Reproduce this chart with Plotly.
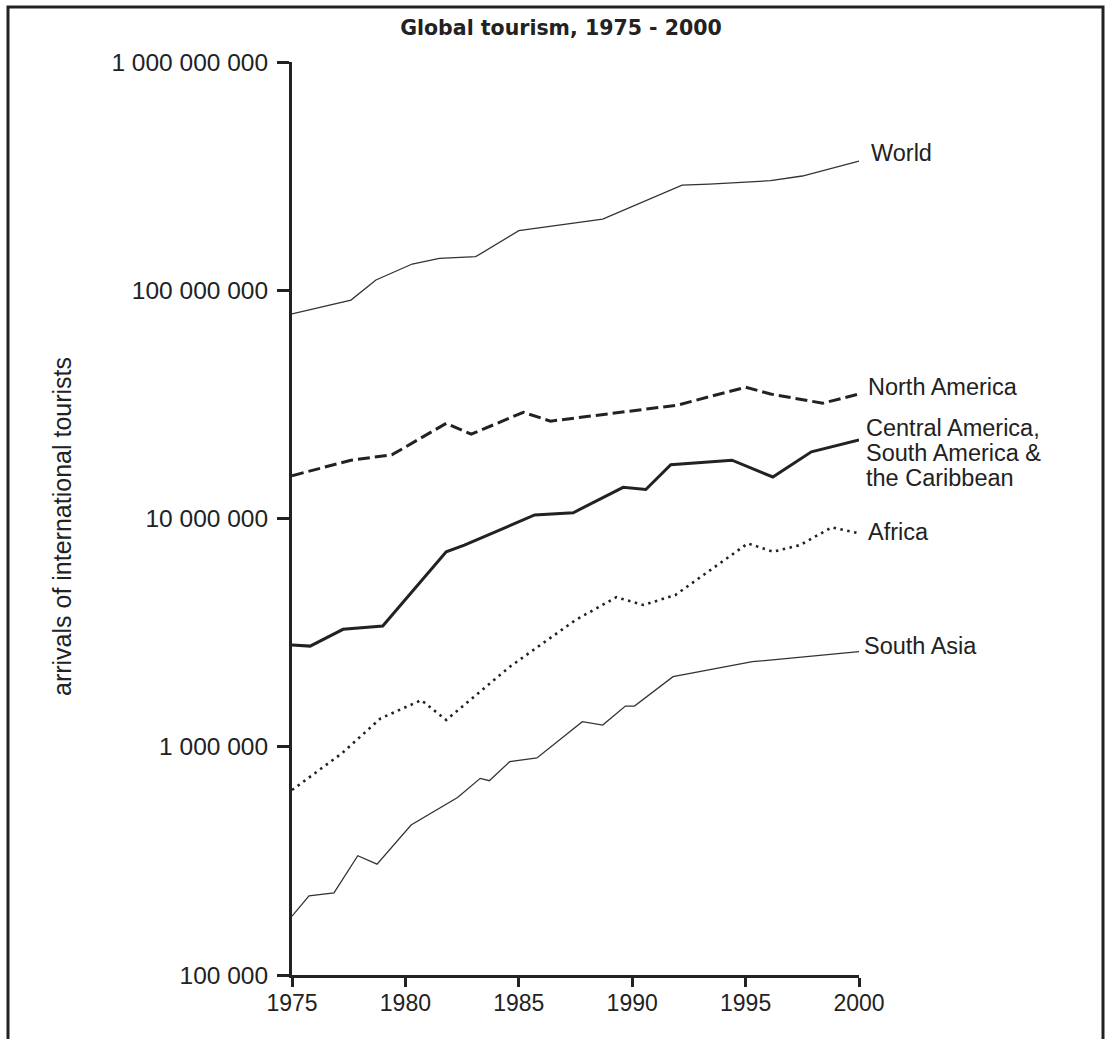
import plotly.graph_objects as go

# ---------------- data (values in millions of arrivals) ----------------
world_years = [1975, 1977.6, 1978.7, 1980.3, 1981.5, 1983.1, 1985.0, 1988.7, 1992.2, 1993.4, 1996.1, 1997.5, 2000]
world_vals = [78.7, 90.6, 110.9, 130.3, 138.0, 140.3, 182.4, 205.0, 289.0, 292.0, 302.0, 316.6, 368.0]

na_years = [1975, 1977.6, 1979.4, 1981.8, 1982.9, 1985.2, 1986.4, 1992.0, 1995.0, 1996.1, 1998.4, 2000]
na_vals = [15.4, 18.0, 19.0, 26.1, 23.4, 29.2, 26.7, 31.4, 37.6, 35.1, 32.0, 35.1]

ca_years = [1975, 1975.8, 1977.25, 1979.0, 1981.8, 1982.6, 1985.7, 1987.4, 1989.6, 1990.6, 1991.7, 1994.4, 1996.2, 1997.9, 2000]
ca_vals = [2.79, 2.76, 3.27, 3.38, 7.15, 7.65, 10.36, 10.6, 13.7, 13.4, 17.2, 18.0, 15.2, 19.6, 22.1]

africa_years = [1975, 1977.2, 1978.9, 1980.7, 1981.8, 1984.6, 1987.5, 1989.3, 1990.5, 1991.9, 1995.1, 1996.2, 1997.4, 1998.8, 2000]
africa_vals = [0.646, 0.936, 1.33, 1.60, 1.31, 2.24, 3.59, 4.52, 4.18, 4.62, 7.78, 7.15, 7.65, 9.15, 8.61]

sasia_years = [1975, 1975.75, 1976.85, 1977.9, 1978.75, 1980.25, 1982.3, 1983.3, 1983.7, 1984.6, 1985.8, 1987.8, 1988.7, 1989.7, 1990.1, 1991.8, 1995.3, 2000]
sasia_vals = [0.181, 0.222, 0.229, 0.333, 0.306, 0.454, 0.599, 0.727, 0.710, 0.860, 0.893, 1.288, 1.245, 1.508, 1.508, 2.027, 2.358, 2.609]

x_ticks = [1975, 1980, 1985, 1990, 1995, 2000]
y_ticks = [1e5, 1e6, 1e7, 1e8, 1e9]
y_tick_text = ["100 000", "1 000 000", "10 000 000", "100 000 000", "1 000 000 000"]

series_labels = ["World", "North America", "Central America,", "South America &", "the Caribbean", "Africa", "South Asia"]
title_text = "Global tourism, 1975 - 2000"
y_title = "arrivals of international tourists"

# ---------------- layout geometry ----------------
W, H = 1111, 1039
L, R, T, B = 292, 252, 62, 64
PW, PH = W - L - R, H - T - B


def px(xp):
    return (xp - L) / PW


def py(yp):
    return (H - B - yp) / PH


INK = "#222222"
FONT = "Liberation Sans, Arial, sans-serif"

fig = go.Figure()


def add(xs, vs, width, dash, color=INK):
    fig.add_trace(go.Scatter(
        x=xs, y=[v * 1e6 for v in vs], mode="lines",
        line=dict(color=color, width=width, dash=dash),
        showlegend=False, hoverinfo="skip"))


add(world_years, world_vals, 1.3, "solid", "#333333")
add(na_years, na_vals, 3, "12px,5px")
add(ca_years, ca_vals, 3, "solid")
add(africa_years, africa_vals, 2.6, "2.5px,4.5px")
add(sasia_years, sasia_vals, 1.3, "solid", "#333333")

fig.update_layout(
    width=W, height=H,
    margin=dict(l=L, r=R, t=T, b=B, pad=0),
    paper_bgcolor="white", plot_bgcolor="white",
    font=dict(family=FONT, size=23, color=INK),
    title=dict(text=f"<b>{title_text}</b>", x=px(561), xref="paper", xanchor="center",
               y=1 - 28 / H, yref="container", yanchor="middle",
               font=dict(family="DejaVu Sans, sans-serif", size=20.5, color=INK)),
    xaxis=dict(range=[1975, 2000], tickvals=x_ticks, ticktext=[str(v) for v in x_ticks],
               showgrid=False, zeroline=False, showline=True, linecolor=INK, linewidth=3,
               ticks="outside", ticklen=9, tickwidth=3, tickcolor=INK,
               ticklabelstandoff=-4,
               tickfont=dict(size=23, color=INK)),
    yaxis=dict(type="log", range=[5, 9], tickvals=y_ticks, ticktext=y_tick_text,
               showgrid=False, zeroline=False, showline=True, linecolor=INK, linewidth=3,
               ticks="outside", ticklen=12, tickwidth=3, tickcolor=INK,
               ticklabelstandoff=4,
               tickfont=dict(size=24.5, color=INK)),
)

# series labels (left edge x, centre y in pixels)
label_pos = [(869, 153), (866, 387), (864, 428), (864, 453), (864, 478), (866, 532), (862, 646)]
for text, (lx, ly) in zip(series_labels, label_pos):
    fig.add_annotation(text=text, x=px(lx), y=py(ly), xref="paper", yref="paper",
                       xanchor="left", yanchor="middle", showarrow=False,
                       font=dict(family=FONT, size=23.5, color=INK))

# y-axis title
fig.add_annotation(text=y_title, x=px(62), y=py(527), xref="paper", yref="paper",
                   xanchor="center", yanchor="middle", textangle=-90, showarrow=False,
                   font=dict(family=FONT, size=25, color=INK))

# outer frame
fig.add_shape(type="rect", xref="paper", yref="paper",
              x0=px(8), x1=px(1103), y0=py(1060), y1=py(7),
              line=dict(color=INK, width=3), fillcolor="rgba(0,0,0,0)", layer="above")

fig.write_html("out.html")
